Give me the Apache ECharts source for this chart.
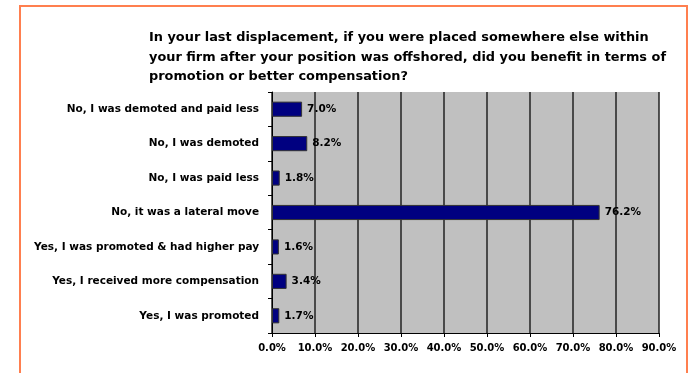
<!DOCTYPE html>
<html>
<head>
<meta charset="utf-8">
<script src="https://cdn.jsdelivr.net/npm/echarts@6/dist/echarts.min.js"></script>
<style>
  html, body { margin: 0; padding: 0; background: #fff; }
  #chart { width: 693px; height: 373px; }
</style>
</head>
<body>
<div id="chart"></div>
<script>
// Survey answers, listed from top to bottom
const categories = [
  'No, I was demoted and paid less',
  'No, I was demoted',
  'No, I was paid less',
  'No, it was a lateral move',
  'Yes, I was promoted & had higher pay',
  'Yes, I received more compensation',
  'Yes, I was promoted'
];
// Share of respondents (%)
const shares = [7.0, 8.2, 1.8, 76.2, 1.6, 3.4, 1.7];
// Percentage axis
const axisMin = 0;
const axisMax = 90;
const axisStep = 10;

const titleText = 'In your last displacement, if you were placed somewhere else within\n' +
  'your firm after your position was offshored, did you benefit in terms of\n' +
  'promotion or better compensation?';

const font = '"DejaVu Sans", sans-serif';

const chart = echarts.init(document.getElementById('chart'), null, { renderer: 'canvas' });

chart.setOption({
  animation: false,
  backgroundColor: '#ffffff',
  graphic: [{
    type: 'rect',
    shape: { x: 20, y: 6, width: 667, height: 400 },
    style: { fill: 'none', stroke: '#FF7F4F', lineWidth: 2 },
    z: 0
  }],
  title: {
    text: titleText,
    left: 144,
    top: 23,
    textStyle: {
      fontFamily: font,
      fontSize: 12.9,
      fontWeight: 'bold',
      color: '#000',
      lineHeight: 19.5
    }
  },
  grid: {
    left: 272,
    right: 34,
    top: 92,
    bottom: 40,
    show: true,
    backgroundColor: '#C0C0C0',
    borderWidth: 0
  },
  xAxis: {
    type: 'value',
    min: axisMin,
    max: axisMax,
    interval: axisStep,
    axisLine: { show: true, lineStyle: { color: '#000', width: 1 } },
    axisTick: { show: true, length: 4, lineStyle: { color: '#000' } },
    splitLine: { show: true, lineStyle: { color: '#222', width: 1.5 } },
    axisLabel: {
      formatter: v => v.toFixed(1) + '%',
      fontFamily: font,
      fontSize: 10,
      fontWeight: 'bold',
      color: '#000',
      margin: 10
    }
  },
  yAxis: {
    type: 'category',
    data: categories,
    inverse: true,
    axisLine: { show: true, lineStyle: { color: '#000', width: 1 } },
    axisTick: { show: true, length: 4, lineStyle: { color: '#000' } },
    axisLabel: {
      fontFamily: font,
      fontSize: 10.5,
      fontWeight: 'bold',
      color: '#000',
      margin: 13
    }
  },
  series: [{
    type: 'bar',
    data: shares,
    barWidth: '44%',
    itemStyle: { color: '#000080', borderColor: '#333', borderWidth: 1 },
    label: {
      show: true,
      position: 'right',
      distance: 5,
      formatter: p => p.value.toFixed(1) + '%',
      fontFamily: font,
      fontSize: 10.5,
      fontWeight: 'bold',
      color: '#000'
    }
  }]
});
</script>
</body>
</html>
